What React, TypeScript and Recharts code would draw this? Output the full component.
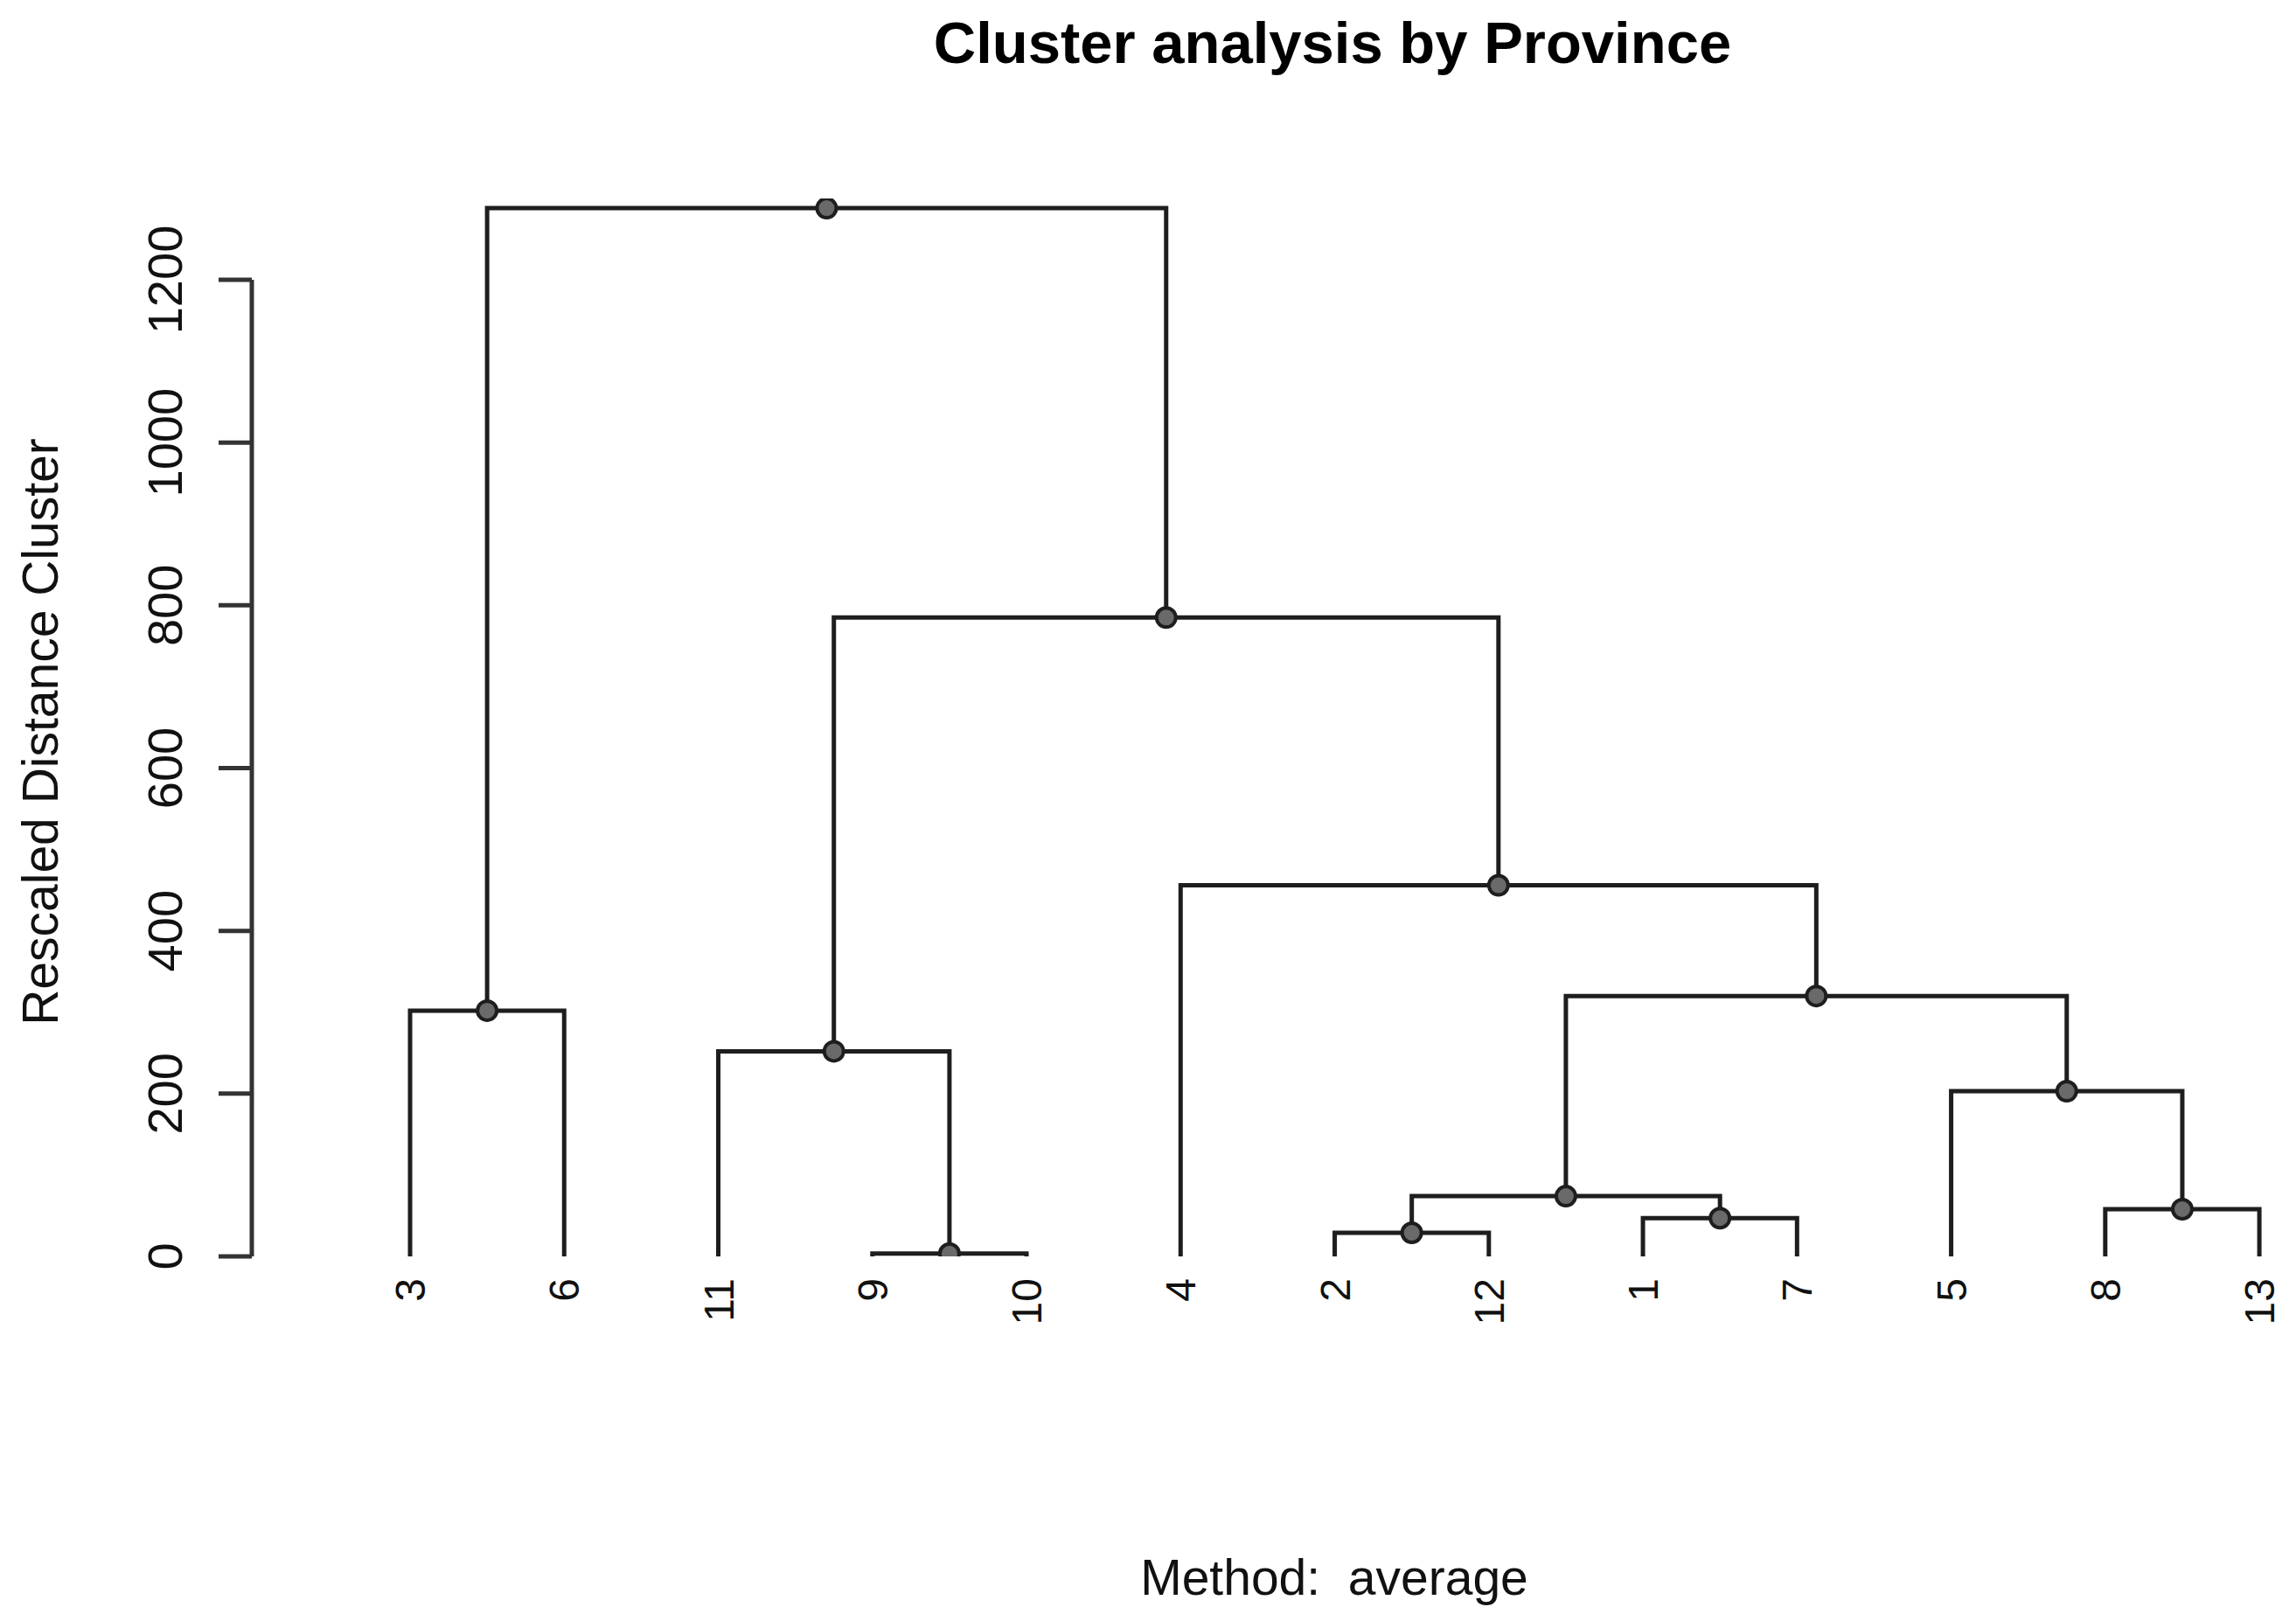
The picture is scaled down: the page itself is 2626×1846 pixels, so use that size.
import React from 'react';
import { ComposedChart, Scatter, XAxis, YAxis, ReferenceLine } from 'recharts';

// leaf order as drawn, left to right
const leafOrder = [3, 6, 11, 9, 10, 4, 2, 12, 1, 7, 5, 8, 13];

// hclust-style merges: negative = observation, positive = earlier merge (1-based)
const mergeLeft = [-9, -2, -1, -8, 2, -5, -11, -3, 5, -4, 7, 8];
const mergeRight = [-10, -12, -7, -13, 3, 4, 1, -6, 6, 9, 10, 11];
const mergeHeight = [3.5, 29, 47, 58, 74, 203, 252, 302, 320, 456, 785, 1288];

const yTicks = [0, 200, 400, 600, 800, 1000, 1200];

const W = 2626;
const H = 1846;
const FONT = '"Liberation Sans", Arial, Helvetica, sans-serif';
const INK = '#1e1e1e';

type Pt = { x: number; y: number };

// position of a node: leaf index or average of children's positions
const nodePos: Pt[] = [];
const posOf = (ref: number): Pt =>
  ref < 0 ? { x: leafOrder.indexOf(-ref), y: 0 } : nodePos[ref - 1];

const links: Pt[][] = mergeHeight.map((h, i) => {
  const l = posOf(mergeLeft[i]);
  const r = posOf(mergeRight[i]);
  nodePos.push({ x: (l.x + r.x) / 2, y: h });
  return [
    { x: l.x, y: l.y },
    { x: l.x, y: h },
    { x: r.x, y: h },
    { x: r.x, y: r.y },
  ];
});

const NoDot = () => <g />;

const NodeDot = (props: any) => {
  const { cx, cy } = props;
  if (cx == null || cy == null) return <g />;
  return <circle cx={cx} cy={cy} r={11} fill="#6a6a6a" stroke={INK} strokeWidth={4} />;
};

const LeafTick = (props: any) => {
  const { x, payload } = props;
  const label = leafOrder[payload.value];
  return (
    <text
      x={x + 17}
      y={1462}
      transform={`rotate(-90, ${x + 17}, 1462)`}
      textAnchor="end"
      fontFamily={FONT}
      fontSize={48}
      fill="#111"
    >
      {label}
    </text>
  );
};

const YTick = (props: any) => {
  const { y, payload } = props;
  return (
    <g>
      <line x1={250} x2={288} y1={y} y2={y} stroke="#333" strokeWidth={5} />
      <text
        x={208}
        y={y}
        transform={`rotate(-90, 208, ${y})`}
        textAnchor="middle"
        fontFamily={FONT}
        fontSize={56}
        fill="#111"
      >
        {payload.value}
      </text>
    </g>
  );
};

export default function App() {
  const xMin = -1.027;
  const xMax = 12.147;
  return (
    <div style={{ position: 'absolute', left: 0, top: 0, width: W, height: H, background: '#fff' }}>
      <ComposedChart
        width={W}
        height={H}
        margin={{ top: 226.9, right: 16, bottom: 289, left: 88 }}
      >
        <XAxis
          type="number"
          dataKey="x"
          domain={[xMin, xMax]}
          ticks={leafOrder.map((_, i) => i)}
          interval={0}
          allowDataOverflow
          axisLine={false}
          tickLine={false}
          height={120}
          tick={<LeafTick />}
        />
        <YAxis
          type="number"
          dataKey="y"
          domain={[0, 1300]}
          ticks={yTicks}
          interval={0}
          allowDataOverflow
          width={200}
          axisLine={false}
          tickLine={false}
          tick={<YTick />}
        />
        <ReferenceLine
          segment={[{ x: xMin, y: 0 }, { x: xMin, y: 1200 }]}
          stroke="#333"
          strokeWidth={5}
          ifOverflow="visible"
        />
        {links.map((pts, i) => (
          <Scatter
            key={i}
            data={pts}
            line={{ stroke: INK, strokeWidth: 5 }}
            lineType="joint"
            shape={<NoDot />}
            isAnimationActive={false}
          />
        ))}
        <Scatter data={nodePos} shape={<NodeDot />} isAnimationActive={false} />
      </ComposedChart>
      <svg
        width={W}
        height={H}
        style={{ position: 'absolute', left: 0, top: 0, pointerEvents: 'none' }}
      >
        <text x={1524} y={72} textAnchor="middle" fontFamily={FONT} fontWeight="bold" fontSize={67} fill="#000">
          Cluster analysis by Province
        </text>
        <text
          x={66}
          y={837}
          transform="rotate(-90, 66, 837)"
          textAnchor="middle"
          fontFamily={FONT}
          fontSize={57}
          fill="#111"
        >
          Rescaled Distance Cluster
        </text>
        <text x={1526} y={1824} textAnchor="middle" fontFamily={FONT} fontSize={57} fill="#111" xmlSpace="preserve">
          Method:  average
        </text>
      </svg>
    </div>
  );
}
